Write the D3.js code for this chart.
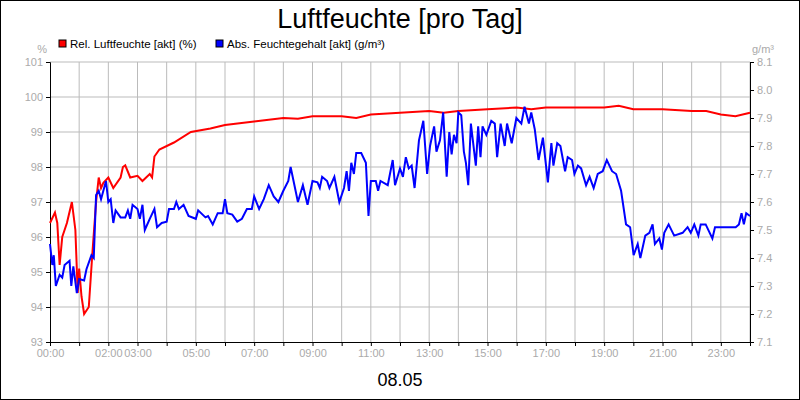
<!DOCTYPE html>
<html><head><meta charset="utf-8">
<script src="https://cdn.jsdelivr.net/npm/d3@7"></script>
<style>body{margin:0;background:#fff}svg{font-family:"Liberation Sans",Arial,sans-serif}</style>
</head><body><div id="chart"></div>
<script>
// data (time in hours)
var relTime = [0,0.17,0.25,0.33,0.42,0.58,0.75,0.87,0.95,1.0,1.08,1.17,1.33,1.45,1.58,1.67,1.75,1.83,2.0,2.17,2.42,2.5,2.58,2.75,3.0,3.17,3.42,3.5,3.58,3.75,4.25,4.83,5.5,6.0,7.0,7.5,8.0,8.5,9.0,10.0,10.5,11.0,12.0,13.0,13.5,14.0,15.0,16.0,16.5,17.0,18.0,19.0,19.5,20.0,21.0,22.0,22.5,23.0,23.5,24.0];
var relHum = [96.4,96.7,96.4,95.2,96.0,96.4,97.0,96.2,94.4,95.1,94.3,93.8,94.0,95.5,97.0,97.7,97.4,97.55,97.7,97.4,97.7,98.0,98.05,97.7,97.75,97.6,97.8,97.7,98.3,98.5,98.7,99.0,99.1,99.2,99.3,99.35,99.4,99.38,99.45,99.45,99.4,99.5,99.55,99.6,99.55,99.6,99.65,99.7,99.65,99.7,99.7,99.7,99.75,99.65,99.65,99.6,99.6,99.5,99.45,99.55];
var absTime = [0,0.08,0.13,0.2,0.33,0.42,0.5,0.67,0.73,0.8,0.92,1.0,1.17,1.25,1.42,1.5,1.58,1.67,1.75,1.92,2.0,2.08,2.17,2.25,2.42,2.58,2.67,2.75,2.83,3.0,3.08,3.17,3.25,3.42,3.58,3.67,3.83,4.0,4.08,4.25,4.33,4.42,4.58,4.75,5.0,5.08,5.33,5.42,5.58,5.75,5.92,6.0,6.08,6.25,6.42,6.58,6.75,6.92,7.0,7.17,7.33,7.5,7.67,7.83,8.0,8.17,8.25,8.42,8.5,8.67,8.83,9.0,9.17,9.25,9.33,9.5,9.58,9.75,9.92,10.08,10.17,10.25,10.33,10.42,10.5,10.67,10.83,10.92,11.0,11.17,11.25,11.33,11.58,11.75,11.83,12.0,12.1,12.2,12.3,12.4,12.5,12.65,12.8,12.93,13.03,13.17,13.25,13.37,13.48,13.6,13.69,13.77,13.85,13.94,14.0,14.1,14.19,14.26,14.34,14.43,14.6,14.68,14.76,14.83,14.96,15.13,15.25,15.33,15.45,15.59,15.67,15.83,15.99,16.16,16.27,16.42,16.5,16.62,16.75,16.9,17.07,17.19,17.26,17.39,17.5,17.66,17.75,17.9,17.98,18.1,18.21,18.38,18.5,18.64,18.78,18.95,19.09,19.27,19.41,19.58,19.75,19.89,20.01,20.15,20.24,20.41,20.55,20.66,20.74,20.89,20.98,21.06,21.21,21.4,21.69,21.86,21.97,22.09,22.23,22.31,22.48,22.71,22.8,23.51,23.62,23.71,23.79,23.87,24.0];
var absHum = [7.45,7.375,7.41,7.30,7.34,7.33,7.375,7.39,7.30,7.37,7.275,7.325,7.32,7.36,7.41,7.40,7.625,7.64,7.61,7.675,7.60,7.61,7.525,7.57,7.545,7.545,7.57,7.54,7.59,7.575,7.54,7.59,7.50,7.54,7.575,7.51,7.525,7.53,7.575,7.575,7.60,7.575,7.59,7.55,7.54,7.57,7.545,7.55,7.52,7.56,7.56,7.61,7.56,7.555,7.53,7.54,7.575,7.575,7.62,7.575,7.61,7.66,7.62,7.60,7.64,7.675,7.725,7.64,7.60,7.66,7.59,7.675,7.67,7.65,7.69,7.675,7.65,7.69,7.60,7.65,7.71,7.64,7.74,7.70,7.775,7.775,7.74,7.55,7.675,7.675,7.64,7.675,7.66,7.75,7.66,7.72,7.69,7.76,7.72,7.73,7.65,7.82,7.89,7.70,7.80,7.87,7.78,7.82,7.92,7.69,7.85,7.77,7.84,7.81,7.92,7.91,7.78,7.74,7.66,7.88,7.73,7.87,7.76,7.87,7.84,7.89,7.88,7.76,7.88,7.80,7.88,7.81,7.90,7.88,7.94,7.88,7.92,7.86,7.75,7.83,7.67,7.81,7.73,7.81,7.80,7.71,7.76,7.75,7.70,7.73,7.72,7.66,7.69,7.65,7.70,7.71,7.75,7.71,7.70,7.64,7.52,7.51,7.41,7.45,7.40,7.48,7.49,7.52,7.45,7.47,7.43,7.49,7.52,7.48,7.49,7.51,7.49,7.52,7.48,7.52,7.52,7.47,7.51,7.51,7.52,7.56,7.52,7.56,7.55];
var leftTicks = [93,94,95,96,97,98,99,100,101];
var rightTicks = [7.1,7.2,7.3,7.4,7.5,7.6,7.7,7.8,7.9,8.0,8.1];
var hourLabels = [0,2,3,5,7,9,11,13,15,17,19,21,23];

var W = 800, H = 400;
var m = {top: 62, right: 50, bottom: 58, left: 50};
var w = W - m.left - m.right, h = H - m.top - m.bottom;

var svg = d3.select("#chart").append("svg").attr("width", W).attr("height", H);
svg.append("rect").attr("x", 0.5).attr("y", 0.5).attr("width", W - 1).attr("height", H - 1)
  .attr("fill", "#fff").attr("stroke", "#000");

var g = svg.append("g").attr("transform", `translate(${m.left},${m.top})`);

var x = d3.scaleLinear().domain([0, 24]).range([0, w]);
var yL = d3.scaleLinear().domain([93, 101]).range([h, 0]);
var yR = d3.scaleLinear().domain([7.1, 8.1]).range([h, 0]);

// grid
g.append("g").selectAll("line").data(d3.range(1, 25)).enter().append("line")
  .attr("x1", d => x(d)).attr("x2", d => x(d)).attr("y1", 0).attr("y2", h)
  .attr("stroke", "#bbb");
g.append("g").selectAll("line").data(leftTicks.slice(1)).enter().append("line")
  .attr("x1", 0).attr("x2", w).attr("y1", d => yL(d)).attr("y2", d => yL(d))
  .attr("stroke", "#bbb");

// axes
var ax = g.append("g").attr("transform", `translate(0,${h})`)
  .call(d3.axisBottom(x).tickValues(d3.range(0, 25)).tickSize(4)
    .tickFormat(d => hourLabels.includes(d) ? String(d).padStart(2, "0") + ":00" : ""));
var al = g.append("g").call(d3.axisLeft(yL).tickValues(leftTicks).tickSize(4).tickFormat(d3.format("d")));
var ar = g.append("g").attr("transform", `translate(${w},0)`)
  .call(d3.axisRight(yR).tickValues(rightTicks).tickSize(4).tickFormat(d3.format(".1f")));
[ax, al, ar].forEach(a => {
  a.select(".domain").attr("stroke", "#000");
  a.selectAll(".tick line").attr("stroke", "#000");
  a.selectAll("text").attr("fill", "#aaa").style("font-size", "11px").style("font-family", "Liberation Sans, Arial");
});
ax.selectAll(".tick:last-child text").remove();

// lines
var relData = relTime.map((t, i) => [t, relHum[i]]);
var absData = absTime.map((t, i) => [t, absHum[i]]);
g.append("path").datum(relData).attr("fill", "none").attr("stroke", "#f00").attr("stroke-width", 2)
  .attr("d", d3.line().x(d => x(d[0])).y(d => yL(d[1])));
g.append("path").datum(absData).attr("fill", "none").attr("stroke", "#00f").attr("stroke-width", 2)
  .attr("d", d3.line().x(d => x(d[0])).y(d => yR(d[1])));

// titles
svg.append("text").attr("x", W / 2).attr("y", 28).attr("text-anchor", "middle")
  .style("font-size", "27px").text("Luftfeuchte [pro Tag]");
svg.append("text").attr("x", W / 2).attr("y", 386).attr("text-anchor", "middle")
  .style("font-size", "18px").text("08.05");
svg.append("text").attr("x", 47).attr("y", 53).attr("text-anchor", "end")
  .attr("fill", "#aaa").style("font-size", "11px").text("%");
svg.append("text").attr("x", 752).attr("y", 53)
  .attr("fill", "#aaa").style("font-size", "11px").text("g/m³");

// legend
var legend = [["Rel. Luftfeuchte [akt] (%)", "#f00", 59], ["Abs. Feuchtegehalt [akt] (g/m³)", "#00f", 216]];
legend.forEach(l => {
  svg.append("rect").attr("x", l[2]).attr("y", 40).attr("width", 7).attr("height", 7)
    .attr("fill", l[1]).attr("stroke", "#000");
  svg.append("text").attr("x", l[2] + 11).attr("y", 48).style("font-size", "11.5px").text(l[0]);
});
</script></body></html>
